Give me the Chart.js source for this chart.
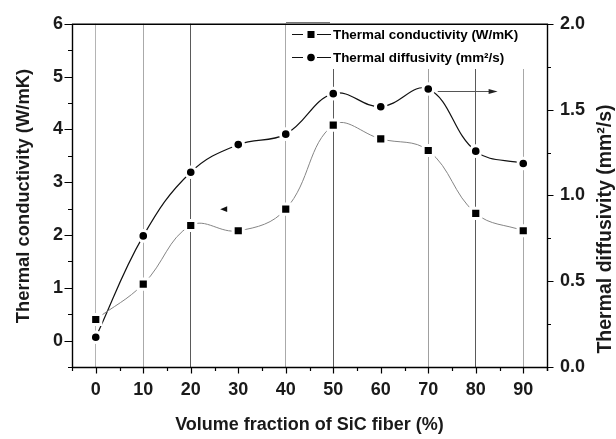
<!DOCTYPE html>
<html>
<head>
<meta charset="utf-8">
<script src="https://cdn.jsdelivr.net/npm/chart.js@4.4.1/dist/chart.umd.min.js"></script>
<style>
html,body{margin:0;padding:0;background:#fff;}
#wrap{width:616px;height:439px;position:relative;}
</style>
</head>
<body>
<div id="wrap"><canvas id="c" width="616" height="439"></canvas></div>
<script>
// ---- data ----
const categories = [0, 10, 20, 30, 40, 50, 60, 70, 80, 90];
const conductivity = [0.40, 1.07, 2.18, 2.08, 2.49, 4.08, 3.82, 3.60, 2.41, 2.08];
const diffusivity = [0.173, 0.764, 1.135, 1.296, 1.357, 1.593, 1.517, 1.620, 1.258, 1.186];
const xTickLabels = ['0', '10', '20', '30', '40', '50', '60', '70', '80', '90'];
const leftTickLabels = ['0', '1', '2', '3', '4', '5', '6'];
const rightTickLabels = ['0.0', '0.5', '1.0', '1.5', '2.0'];
const seriesNames = ['Thermal conductivity (W/mK)', 'Thermal diffusivity (mm\u00B2/s)'];
const xTitle = 'Volume fraction of SiC fiber (%)';
const leftTitle = 'Thermal conductivity (W/mK)';
const rightTitle = 'Thermal diffusivity (mm\u00B2/s)';
const verticalLineAt = [0, 10, 20, 40, 50, 70, 80, 90];

// ---- styles ----
const FONT = '"Liberation Sans", Arial, Helvetica, sans-serif';
const gridShade = {0: '#b4b4b4', 10: '#aaaaaa', 20: '#5a5a5a', 40: '#aaaaaa', 50: '#5a5a5a', 70: '#a0a0a0', 80: '#5a5a5a', 90: '#a8a8a8'};

const decor = {
  id: 'decor',
  afterDatasetsDraw(chart) {
    const ctx = chart.ctx;
    const {left, right, top, bottom} = chart.chartArea;
    const x = chart.scales.x, yL = chart.scales.yL, yR = chart.scales.yR;
    ctx.save();

    // legend box (white background)
    ctx.fillStyle = '#fff';
    ctx.fillRect(287, 23, 258, 46);
    ctx.strokeStyle = '#777';
    ctx.lineWidth = 1;
    ctx.beginPath(); ctx.moveTo(286, 22.5); ctx.lineTo(330, 22.5); ctx.stroke();

    // legend entries
    ctx.strokeStyle = '#111';
    ctx.fillStyle = '#000';
    ctx.lineWidth = 1;
    const rows = [34, 57];
    rows.forEach((ry, i) => {
      ctx.beginPath();
      ctx.moveTo(292, ry + 0.5); ctx.lineTo(303, ry + 0.5);
      ctx.moveTo(317, ry + 0.5); ctx.lineTo(331, ry + 0.5);
      ctx.stroke();
      if (i === 0) {
        ctx.fillRect(307.5, ry - 3, 7, 7);
      } else {
        ctx.beginPath(); ctx.arc(311, ry + 0.5, 3.8, 0, Math.PI * 2); ctx.fill();
      }
      ctx.font = 'bold 13.4px ' + FONT;
      ctx.textBaseline = 'middle';
      ctx.textAlign = 'left';
      ctx.fillText(seriesNames[i], 333, ry + 1);
    });

    // frame
    ctx.strokeStyle = '#000';
    ctx.lineWidth = 1.4;
    ctx.beginPath();
    ctx.moveTo(left, top + 0.5); ctx.lineTo(right + 1, top + 0.5);
    ctx.moveTo(left + 0.5, top); ctx.lineTo(left + 0.5, bottom + 1);
    ctx.moveTo(right + 0.5, top); ctx.lineTo(right + 0.5, bottom + 4);
    ctx.moveTo(left, bottom + 0.5); ctx.lineTo(right + 1, bottom + 0.5);
    ctx.stroke();

    // ticks
    ctx.lineWidth = 1.2;
    ctx.beginPath();
    for (let v = -0.5; v <= 6.001; v += 0.5) {
      const py = Math.round(yL.getPixelForValue(v)) + 0.5;
      const major = Math.abs(v - Math.round(v)) < 1e-6;
      ctx.moveTo(left + 0.5, py); ctx.lineTo(left + 0.5 - (major ? 8 : 4.5), py);
    }
    for (let v = 0; v <= 2.001; v += 0.25) {
      const py = Math.round(yR.getPixelForValue(v)) + 0.5;
      const major = Math.abs(v * 2 - Math.round(v * 2)) < 1e-6;
      ctx.moveTo(right + 0.5, py); ctx.lineTo(right + 0.5 + (major ? 6 : 3.5), py);
    }
    for (let v = -5; v <= 95.001; v += 5) {
      const px = Math.round(x.getPixelForValue(v)) + 0.5;
      const major = v % 10 === 0;
      ctx.moveTo(px, bottom + 0.5); ctx.lineTo(px, bottom + 0.5 + (major ? 6 : 3.5));
    }
    ctx.stroke();

    // arrow to the left axis (conductivity)
    const ax = x.getPixelForValue(26.2), ay = yL.getPixelForValue(2.49);
    ctx.fillStyle = '#111';
    ctx.beginPath();
    ctx.moveTo(ax, ay); ctx.lineTo(ax + 7, ay - 2.8); ctx.lineTo(ax + 7, ay + 2.8); ctx.closePath();
    ctx.fill();

    // arrow to the right axis (diffusivity)
    const bx0 = x.getPixelForValue(72), bx1 = x.getPixelForValue(84.6), by = Math.round(yR.getPixelForValue(1.61)) + 0.5;
    ctx.strokeStyle = '#555';
    ctx.lineWidth = 1;
    ctx.beginPath(); ctx.moveTo(bx0, by); ctx.lineTo(bx1 - 6, by); ctx.stroke();
    ctx.fillStyle = '#222';
    ctx.beginPath();
    ctx.moveTo(bx1, by); ctx.lineTo(bx1 - 9, by - 2.6); ctx.lineTo(bx1 - 9, by + 2.6); ctx.closePath();
    ctx.fill();

    // titles
    ctx.fillStyle = '#1a1a1a';
    ctx.textAlign = 'center';
    ctx.textBaseline = 'middle';
    ctx.font = 'bold 18px ' + FONT;
    ctx.fillText(xTitle, (left + right) / 2, 425);
    ctx.save();
    ctx.font = 'bold 18.4px ' + FONT;
    ctx.translate(24, 196); ctx.rotate(-Math.PI / 2);
    ctx.fillText(leftTitle, 0, 0);
    ctx.restore();
    ctx.save();
    ctx.font = 'bold 19.5px ' + FONT;
    ctx.translate(606, 229); ctx.rotate(-Math.PI / 2);
    ctx.fillText(rightTitle, 0, 0);
    ctx.restore();

    ctx.restore();
  }
};

const tickFont = {family: FONT, size: 18, weight: 'bold'};

new Chart(document.getElementById('c'), {
  type: 'line',
  data: {
    datasets: [
      {
        label: seriesNames[0],
        data: categories.map((c, i) => ({x: c, y: conductivity[i]})),
        yAxisID: 'yL',
        borderColor: '#858585',
        borderWidth: 1,
        tension: 0.4,
        fill: false,
        pointStyle: 'rect',
        pointRadius: 7.2,
        pointBackgroundColor: '#000',
        pointBorderColor: '#fff',
        pointBorderWidth: 3
      },
      {
        label: seriesNames[1],
        data: categories.map((c, i) => ({x: c, y: diffusivity[i]})),
        yAxisID: 'yR',
        borderColor: '#111',
        borderWidth: 1.2,
        tension: 0.4,
        fill: false,
        pointStyle: 'circle',
        pointRadius: 5.3,
        pointBackgroundColor: '#000',
        pointBorderColor: '#fff',
        pointBorderWidth: 3
      }
    ]
  },
  options: {
    responsive: false,
    animation: false,
    devicePixelRatio: 1,
    layout: {padding: {top: 17, left: 0, right: 0, bottom: 0}},
    plugins: {legend: {display: false}, tooltip: {enabled: false}},
    scales: {
      x: {
        type: 'linear', position: 'bottom', min: -5, max: 95,
        afterBuildTicks: s => { s.ticks = categories.map(v => ({value: v})); },
        afterFit: s => { s.height = 72; },
        ticks: {callback: (v, i) => xTickLabels[i], font: tickFont, color: '#1a1a1a', padding: 12, maxRotation: 0, autoSkip: false},
        grid: {
          drawTicks: false, lineWidth: 1,
          color: c => (c.tick && verticalLineAt.includes(c.tick.value)) ? gridShade[c.tick.value] : 'rgba(0,0,0,0)'
        },
        border: {display: false}
      },
      yL: {
        type: 'linear', position: 'left', min: -0.5, max: 6,
        afterBuildTicks: s => { s.ticks = leftTickLabels.map(t => ({value: Number(t)})); },
        afterFit: s => { s.width = 72; },
        ticks: {callback: (v, i) => leftTickLabels[i], font: tickFont, color: '#1a1a1a', padding: 9, autoSkip: false},
        grid: {drawOnChartArea: false, drawTicks: false, color: 'rgba(0,0,0,0)'},
        border: {display: false}
      },
      yR: {
        type: 'linear', position: 'right', min: 0, max: 2,
        afterBuildTicks: s => { s.ticks = rightTickLabels.map(t => ({value: Number(t)})); },
        afterFit: s => { s.width = 69; },
        ticks: {callback: (v, i) => rightTickLabels[i], font: tickFont, color: '#1a1a1a', padding: 13, autoSkip: false},
        grid: {drawOnChartArea: false, drawTicks: false, color: 'rgba(0,0,0,0)'},
        border: {display: false}
      }
    }
  },
  plugins: [decor]
});
</script>
</body>
</html>
